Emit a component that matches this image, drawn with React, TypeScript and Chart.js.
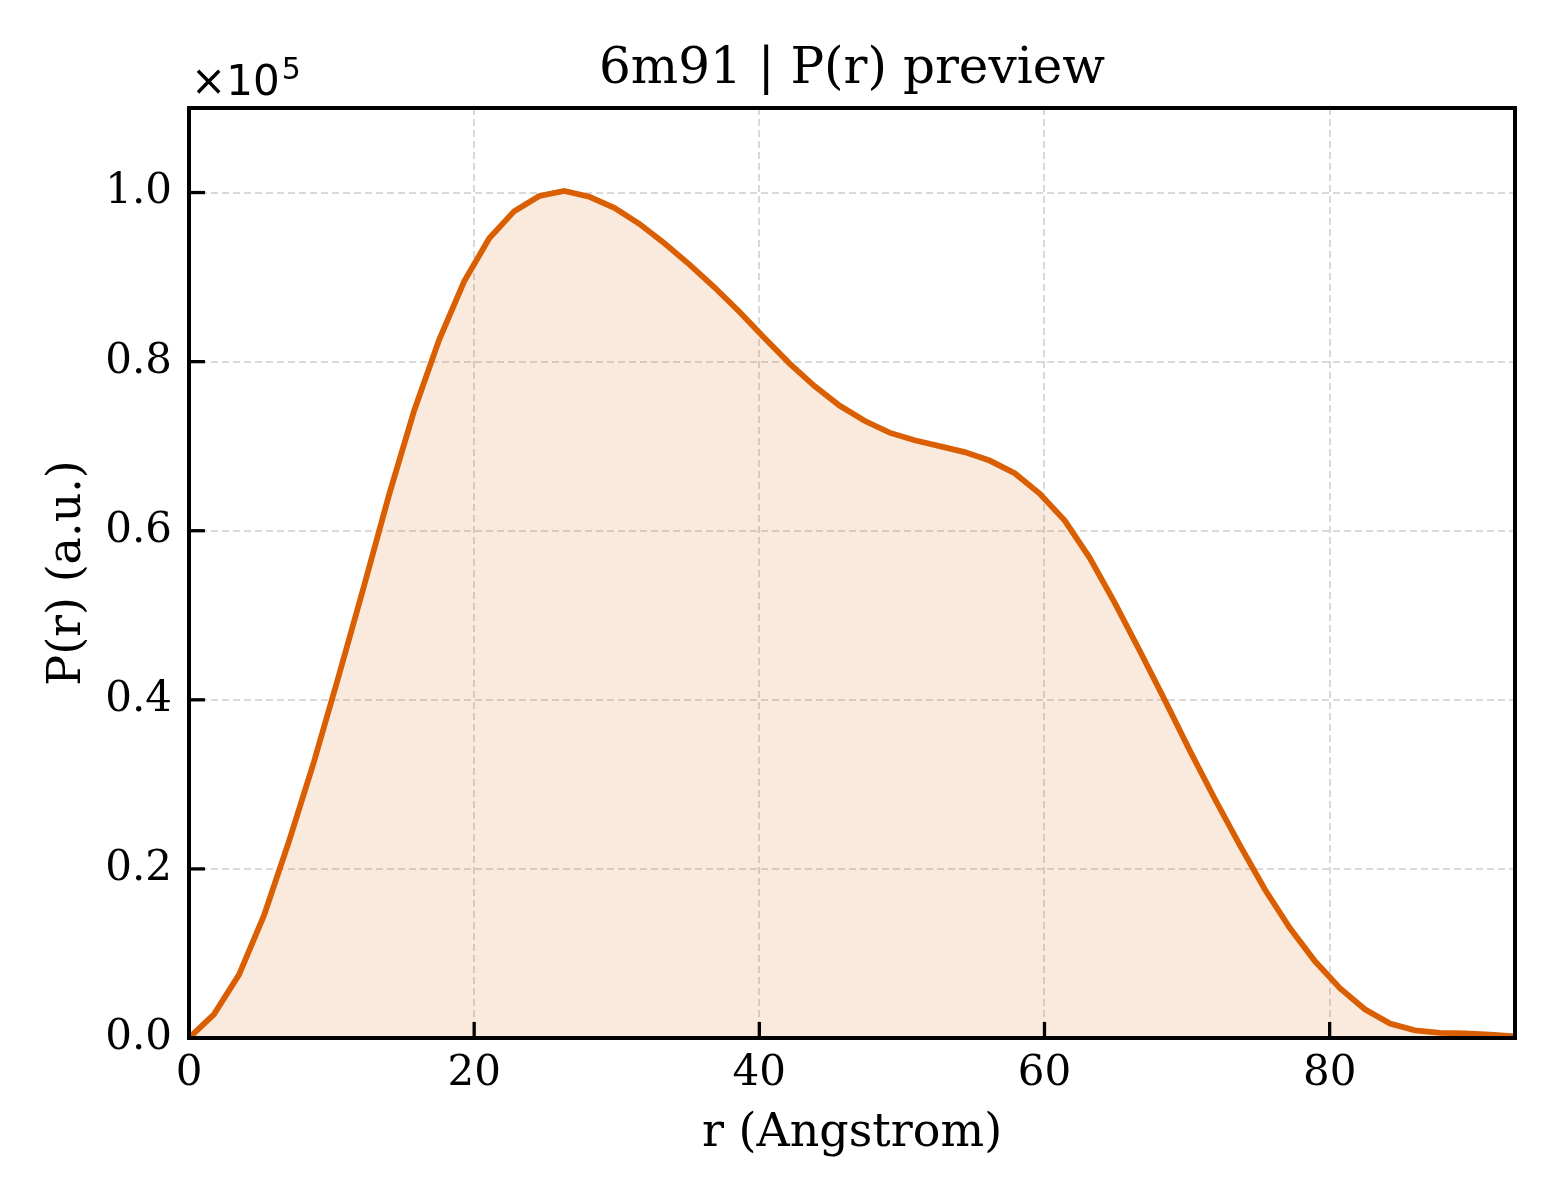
import React, { useEffect, useRef } from "react";
import { Chart, registerables } from "chart.js";

Chart.register(...registerables);

// r values (Angstrom)
const rValues: number[] = [
  0, 1.75, 3.51, 5.26, 7.02, 8.77, 10.53, 12.28, 14.04, 15.79, 17.55, 19.3,
  21.06, 22.81, 24.57, 26.32, 28.08, 29.83, 31.58, 33.34, 35.09, 36.85, 38.6,
  40.36, 42.11, 43.87, 45.62, 47.38, 49.13, 50.89, 52.64, 54.4, 56.15, 57.91,
  59.66, 61.42, 63.17, 64.92, 66.68, 68.43, 70.19, 71.94, 73.7, 75.45, 77.21,
  78.96, 80.72, 82.47, 84.23, 85.98, 87.74, 89.49, 91.25, 93.0,
];

// P(r) values (a.u.)
const prValues: number[] = [
  0, 2800, 7500, 14500, 23300, 32700, 43000, 53500, 64300, 74200, 82600,
  89500, 94600, 97800, 99600, 100200, 99500, 98200, 96300, 94000, 91500,
  88800, 85900, 82800, 79800, 77100, 74800, 73000, 71600, 70700, 70000,
  69300, 68300, 66800, 64400, 61200, 56800, 51500, 45800, 40000, 34000,
  28300, 22800, 17600, 13000, 9100, 5900, 3400, 1700, 900, 600, 550, 400, 200,
];

const xTickValues: number[] = [0, 20, 40, 60, 80];
const yTickValues: number[] = [0, 20000, 40000, 60000, 80000, 100000];
const xMax = 93;
const yMax = 110000;

const titleText = "6m91 | P(r) preview";
const xLabel = "r (Angstrom)";
const yLabel = "P(r) (a.u.)";

const SERIF = "'DejaVu Serif', serif";
const SANS = "'DejaVu Sans', sans-serif";

const framePlugin = {
  id: "frame",
  afterDraw(chart: any) {
    const { ctx, chartArea } = chart;
    const { left, right, top, bottom } = chartArea;
    ctx.save();
    // inward ticks
    ctx.strokeStyle = "#000";
    ctx.lineWidth = 3.3;
    const xs = chart.scales.x;
    xs.ticks.forEach((t: any) => {
      const px = xs.getPixelForValue(t.value);
      ctx.beginPath();
      ctx.moveTo(px, bottom);
      ctx.lineTo(px, bottom - 16);
      ctx.stroke();
    });
    const ys = chart.scales.y;
    ys.ticks.forEach((t: any) => {
      const py = ys.getPixelForValue(t.value);
      ctx.beginPath();
      ctx.moveTo(left, py);
      ctx.lineTo(left + 16, py);
      ctx.stroke();
    });
    // spines
    ctx.lineWidth = 4;
    ctx.strokeRect(left, top, right - left, bottom - top);
    // offset text
    ctx.fillStyle = "#000";
    ctx.textAlign = "left";
    ctx.textBaseline = "alphabetic";
    ctx.font = `42px ${SANS}`;
    const base = "\u00d710";
    ctx.fillText(base, left + 2, top - 13);
    const w = ctx.measureText(base).width;
    ctx.font = `30px ${SANS}`;
    ctx.fillText("5", left + 2 + w + 2, top - 29);
    ctx.restore();
  },
};

export default function App() {
  const ref = useRef<HTMLCanvasElement | null>(null);
  useEffect(() => {
    if (!ref.current) return;
    Chart.defaults.color = "#000";
    const points = rValues.map((r, i) => ({ x: r, y: prValues[i] }));
    const chart = new Chart(ref.current, {
      type: "line",
      data: {
        datasets: [
          {
            data: points,
            borderColor: "#d95f02",
            backgroundColor: "rgba(217,95,2,0.13)",
            borderWidth: 5.8,
            pointRadius: 0,
            tension: 0,
            fill: "origin",
          },
        ],
      },
      options: {
        animation: false,
        responsive: false,
        devicePixelRatio: 1,
        layout: { padding: { left: 0, right: 45, top: 0, bottom: 0 } },
        plugins: {
          legend: { display: false },
          tooltip: { enabled: false },
          title: {
            display: true,
            fullSize: false,
            text: titleText,
            color: "#000",
            font: { family: SERIF, size: 50, weight: "normal" },
            padding: { top: 40.5, bottom: 7.5 },
          },
        },
        scales: {
          x: {
            type: "linear",
            min: 0,
            max: xMax,
            afterFit(scale: any) {
              scale.height = 162;
            },
            afterBuildTicks(scale: any) {
              scale.ticks = xTickValues.map((v) => ({ value: v }));
            },
            ticks: {
              padding: 11,
              maxRotation: 0,
              autoSkip: false,
              font: { family: SERIF, size: 42 },
              color: "#000",
            },
            grid: {
              color: "rgba(0,0,0,0.15)",
              lineWidth: 2,
              drawTicks: false,
            },
            border: { display: false, dash: [7, 4] },
            title: {
              display: true,
              text: xLabel,
              color: "#000",
              font: { family: SERIF, size: 46 },
              padding: { top: 0, bottom: 38 },
            },
          },
          y: {
            type: "linear",
            min: 0,
            max: yMax,
            afterFit(scale: any) {
              scale.width = 189;
            },
            afterBuildTicks(scale: any) {
              scale.ticks = yTickValues.map((v) => ({ value: v }));
            },
            ticks: {
              padding: 17,
              autoSkip: false,
              font: { family: SERIF, size: 42 },
              color: "#000",
              callback: (v: any) => (Number(v) / 100000).toFixed(1),
            },
            grid: {
              color: "rgba(0,0,0,0.15)",
              lineWidth: 2,
              drawTicks: false,
            },
            border: { display: false, dash: [7, 4] },
            title: {
              display: true,
              text: yLabel,
              color: "#000",
              font: { family: SERIF, size: 46 },
              padding: { top: 40, bottom: 0 },
            },
          },
        },
      },
      plugins: [framePlugin],
    } as any);
    return () => chart.destroy();
  }, []);
  return (
    <div style={{ position: "absolute", left: 0, top: 0, width: 1560, height: 1200, background: "#fff" }}>
      <canvas ref={ref} width={1560} height={1200} style={{ width: 1560, height: 1200, display: "block" }} />
    </div>
  );
}
